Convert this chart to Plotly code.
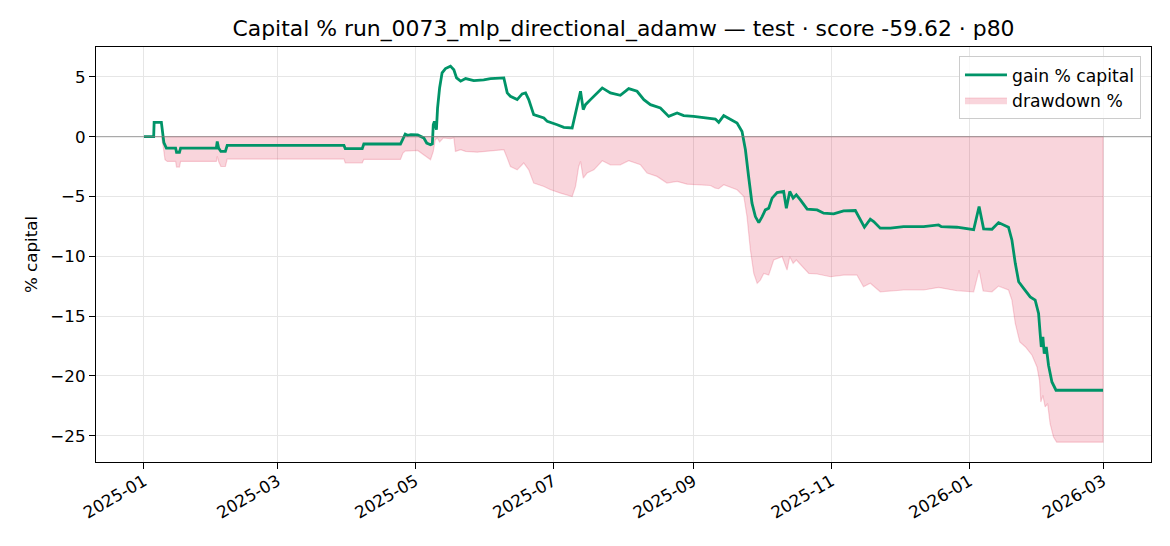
import pandas as pd
import plotly.graph_objects as go

START = pd.Timestamp("2025-01-01")

# gain % capital: (days since 2025-01-01, value)
gain_day = [0, 4.3, 4.5, 7.7, 8.8, 9.9, 14.0, 14.4, 15.7, 16.2, 32.0, 32.4, 33.0, 34.0, 36.0, 36.8,
            88.4, 89.0, 96.5, 97.2, 113.4, 114.9, 115.5, 116.5, 118, 121, 123.7, 125, 126.7, 127.5,
            127.9, 128.4, 129.3, 129.8, 130.7, 131.8, 133.3, 135.5, 137, 138.2, 140, 142.2, 145.8,
            150.2, 153.2, 159.1, 160.6, 162, 165, 167.2, 168.7, 170.1, 172.3, 176.8, 178.3, 182.7,
            185.6, 189.3, 190, 191.5, 193, 194.2, 195.2, 197.4, 199.6, 202.6, 206.2, 210.6, 214.3,
            218, 221, 223.9, 228.3, 232, 235.7, 238.6, 243, 250.4, 252.6, 254.1, 256.3, 257.8, 262.2,
            264.4, 265.9, 267.3, 268.8, 270.3, 271.8, 273.3, 274.7, 276.2, 277.7, 279.9, 282.8, 284.0,
            285.5, 287, 288.4, 290.2, 293.2, 297.6, 300.5, 304.9, 309.3, 314.5, 316.7, 318.5, 321.1,
            322.6, 325.5, 330, 335.8, 344.7, 351.3, 352.5, 359.4, 366.8, 369.2, 371.2, 374.9, 377.8,
            382.2, 383.7, 385.2, 386.7, 388.9, 391.8, 394, 395.5, 396.2, 396.7, 397.4, 398.0, 398.9,
            399.9, 401.4, 403.2, 424]
gain_val = [0, 0, 1.2, 1.2, -0.5, -0.95, -0.95, -1.3, -1.3, -0.95, -0.95, -0.4, -0.95, -1.23, -1.23, -0.73,
            -0.73, -1.0, -1.0, -0.61, -0.61, 0.03, 0.22, 0.12, 0.17, 0.15, -0.1, -0.53, -0.67, -0.6,
            1.0, 1.28, 0.59, 2.4, 4.08, 5.34, 5.7, 5.9, 5.6, 4.92, 4.64, 4.86, 4.69,
            4.75, 4.86, 4.92, 3.66, 3.38, 3.1, 3.58, 3.66, 3.1, 1.84, 1.57, 1.28, 1.0,
            0.78, 0.73, 1.28, 2.68, 3.8, 2.26, 2.68, 3.1, 3.52, 4.08, 3.66, 3.46, 4.02,
            3.8, 3.1, 2.68, 2.4, 1.7, 1.98, 1.76, 1.7, 1.57, 1.48, 1.2, 1.76, 1.6, 1.15,
            0.44, -1.09, -3.33, -5.56, -6.68, -7.18, -6.68, -6.12, -5.98, -5.14, -4.67, -4.58, -5.98,
            -4.58, -5.14, -4.86, -5.28, -6.06, -6.12, -6.4, -6.45, -6.2, -6.17, -6.96, -7.57, -6.9,
            -7.1, -7.65, -7.65, -7.52, -7.52, -7.38, -7.52, -7.57, -7.78, -5.84, -7.7, -7.74, -7.18,
            -7.57, -8.63, -10.59, -12.13, -12.68, -13.39, -13.66, -14.78, -16.46, -17.58, -16.74, -18.13, -17.58,
            -19.11, -20.51, -21.2, -21.2]

# drawdown %: (days since 2025-01-01, value)
dd_day = [0, 7.7, 8.5, 9.3, 10.3, 14.0, 14.4, 15.7, 16.2, 32.0, 32.4, 33.0, 34.0, 36.0, 36.8, 88.4, 89.0,
          96.5, 97.2, 113.4, 114.5, 115.5, 121, 123.7, 126.7, 127.9, 128.8, 129.7, 130.7, 132.3, 135.5,
          137, 137.7, 140, 142.2, 147.3, 153.2, 159.1, 160.6, 162, 165, 167.9, 170.1, 172.3, 176.8,
          179.8, 184.2, 189.3, 190.8, 192.2, 193, 194.2, 195.9, 198.9, 202.6, 206.2, 210.6, 214.3,
          219.5, 222.4, 226.8, 231.2, 235.7, 240.1, 250.4, 252.6, 254.1, 256.3, 262.2, 265.2, 266.6,
          268.1, 269.6, 271.1, 272.5, 274, 276.2, 278.4, 282.1, 284.3, 285.5, 287, 288.4, 291.7, 293.9,
          297.6, 303.5, 309.3, 315.2, 318.1, 321.1, 325.5, 335.8, 344.7, 351.3, 359.4, 366.8, 369.2,
          371, 374.9, 377.8, 382.2, 383.7, 385.2, 387.2, 389.7, 392.6, 394.8, 395.9, 396.5, 397.4,
          398.4, 399.5, 400.6, 402.1, 403.5, 424]
dd_val = [0, 0, -0.8, -1.93, -2.07, -2.07, -2.54, -2.54, -2.07, -2.07, -1.65, -2.07, -2.49, -2.49, -1.87, -1.87, -2.2,
          -2.2, -1.9, -1.9, -1.37, -1.2, -1.15, -1.51, -1.93, -1.23, -0.25, -0.11, -0.45, -0.11, -0.17,
          -0.1, -1.23, -1.09, -1.23, -1.29, -1.17, -1.09, -1.79, -2.49, -2.77, -2.2, -2.77, -3.88, -4.16,
          -4.44, -4.72, -5.0, -4.16, -2.49, -2.07, -3.46, -3.04, -2.77, -2.01, -2.35, -2.35, -2.01,
          -2.35, -3.04, -3.32, -3.88, -3.74, -3.97, -4.08, -4.3, -4.35, -4.02, -4.44, -5.0, -6.68,
          -9.47, -11.43, -12.26, -11.99, -11.43, -11.57, -10.31, -10.03, -11.15, -10.03, -10.59, -10.31, -11.01, -11.43,
          -11.48, -11.71, -11.57, -11.57, -12.55, -12.26, -12.97, -12.82, -12.82, -12.6, -12.88, -12.97, -11.15,
          -12.9, -12.97, -12.49, -12.82, -13.66, -15.62, -17.16, -17.58, -18.27, -19.25, -20.37, -22.19, -21.63,
          -22.6, -22.32, -24.0, -25.12, -25.54, -25.54]

x_tick_start = "2025-01-01"
title_text = "Capital % run_0073_mlp_directional_adamw — test · score -59.62 · p80"

gain_x = START + pd.to_timedelta(gain_day, unit="D")
dd_x = START + pd.to_timedelta(dd_day, unit="D")

# closed polygon for drawdown area (like fill_between edge)
poly_x = list(dd_x) + [dd_x[-1], dd_x[0]]
poly_y = list(dd_val) + [0, 0]

FONT = "DejaVu Sans"
W, H = 1162, 538  # page body has an 8px margin
fig = go.Figure()
fig.add_trace(go.Scatter(
    x=poly_x, y=poly_y, mode="lines", fill="toself",
    fillcolor="rgba(220,20,60,0.18)", line=dict(color="rgba(220,20,60,0.18)", width=1.2),
    name="drawdown %", legendrank=2, hoverinfo="skip"))
fig.add_trace(go.Scatter(
    x=gain_x, y=gain_val, mode="lines", line=dict(color="#009468", width=2.8),
    name="gain % capital", legendrank=1))

fig.add_shape(type="line", xref="paper", x0=0, x1=1, yref="y", y0=0, y1=0,
              line=dict(color="rgba(128,128,128,0.6)", width=1.3), layer="above")

span = pd.Timedelta(days=424 * 0.05)
fig.update_layout(
    width=W, height=H,
    margin=dict(l=88, r=19, t=39, b=84),
    paper_bgcolor="white", plot_bgcolor="white",
    font=dict(family=FONT, size=16.7, color="black"),
    title=dict(text=title_text, x=0.5, xref="paper", y=(H - 20) / H, yref="container",
               yanchor="middle", xanchor="center", font=dict(size=21.9, family=FONT, color="black")),
    showlegend=True,
    legend=dict(x=0.9905, y=0.978, xanchor="right", yanchor="top", itemwidth=42,
                bgcolor="rgba(255,255,255,0.8)", bordercolor="#cccccc", borderwidth=1,
                font=dict(size=17.2, family=FONT)),
)
fig.update_xaxes(
    type="date", range=[START - span, START + pd.Timedelta(days=424) + span],
    tick0=x_tick_start, dtick="M2", tickformat="%Y-%m", tickangle=-30,
    ticklabelstandoff=-4,
    showgrid=True, gridcolor="#e6e6e6", gridwidth=1.2,
    showline=True, linecolor="black", linewidth=1.3, mirror=True,
    ticks="outside", ticklen=6, tickwidth=1.3, tickcolor="black", zeroline=False,
)
fig.update_yaxes(
    range=[-27.2, 7.5], dtick=5, tick0=0,
    showgrid=True, gridcolor="#e6e6e6", gridwidth=1.2,
    showline=True, linecolor="black", linewidth=1.3, mirror=True,
    ticks="outside", ticklen=6, tickwidth=1.3, tickcolor="black", zeroline=False,
    title=dict(text="% capital", standoff=8, font=dict(size=16.7, family=FONT)),
)
fig.write_html("out.html")
